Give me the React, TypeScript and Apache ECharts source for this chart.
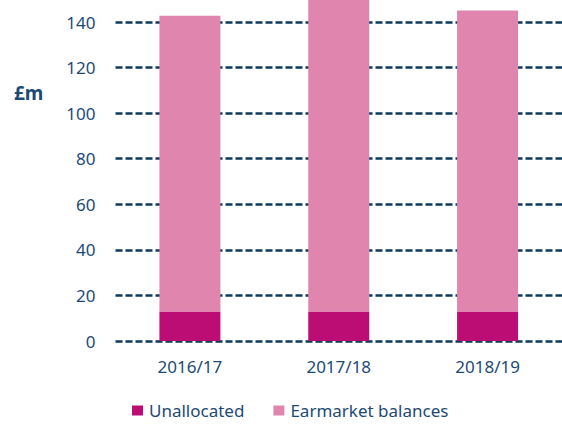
import React, { useEffect, useRef } from "react";
import * as echarts from "echarts";

const categories = ["2016/17", "2017/18", "2018/19"];
const unallocated = [13, 13, 13];
const earmarked = [129.7, 142, 132];
const yTicks = { min: 0, max: 140, interval: 20 };

const TEXT = "#1c4a75";
const GRID = "#0d3a5e";
const FONT = "Noto Sans";

export default function App() {
  const ref = useRef<HTMLDivElement>(null);
  useEffect(() => {
    if (!ref.current) return;
    const chart = echarts.init(ref.current, null, { renderer: "svg" });
    chart.setOption({
      animation: false,
      grid: { left: 115.5, right: -6.5, top: 22, bottom: 83, containLabel: false },
      legend: {
        left: 132,
        top: 402,
        padding: 0,
        itemWidth: 11,
        itemHeight: 10,
        itemGap: 29,
        icon: "rect",
        textStyle: { color: TEXT, fontSize: 17, lineHeight: 17, fontFamily: FONT, padding: [0, 0, 0, 1] },
        data: ["Unallocated", "Earmarket balances"],
      },
      graphic: [
        {
          type: "text",
          left: 14,
          top: 83,
          style: { text: "£m", fill: TEXT, font: `bold 19px ${FONT}` },
        },
      ],
      xAxis: {
        type: "category",
        data: categories,
        axisLine: { show: false },
        axisTick: { show: false },
        axisLabel: { color: TEXT, fontSize: 17, fontFamily: FONT, margin: 17 },
      },
      yAxis: {
        type: "value",
        min: yTicks.min,
        max: yTicks.max,
        interval: yTicks.interval,
        axisLine: { show: false },
        axisTick: { show: false },
        axisLabel: { color: TEXT, fontSize: 17, fontFamily: FONT, margin: 20 },
        splitLine: { lineStyle: { color: GRID, width: 2.5, type: [7, 3] } },
      },
      series: [
        {
          name: "Unallocated",
          type: "bar",
          stack: "total",
          data: unallocated,
          barWidth: 61,
          clip: false,
          itemStyle: { color: "#bb0d73" },
        },
        {
          name: "Earmarket balances",
          type: "bar",
          stack: "total",
          data: earmarked,
          barWidth: 61,
          clip: false,
          itemStyle: { color: "#df85ae" },
        },
      ],
    });
    return () => chart.dispose();
  }, []);
  return <div ref={ref} style={{ width: 562, height: 424, position: "absolute", left: 0, top: 0 }} />;
}
